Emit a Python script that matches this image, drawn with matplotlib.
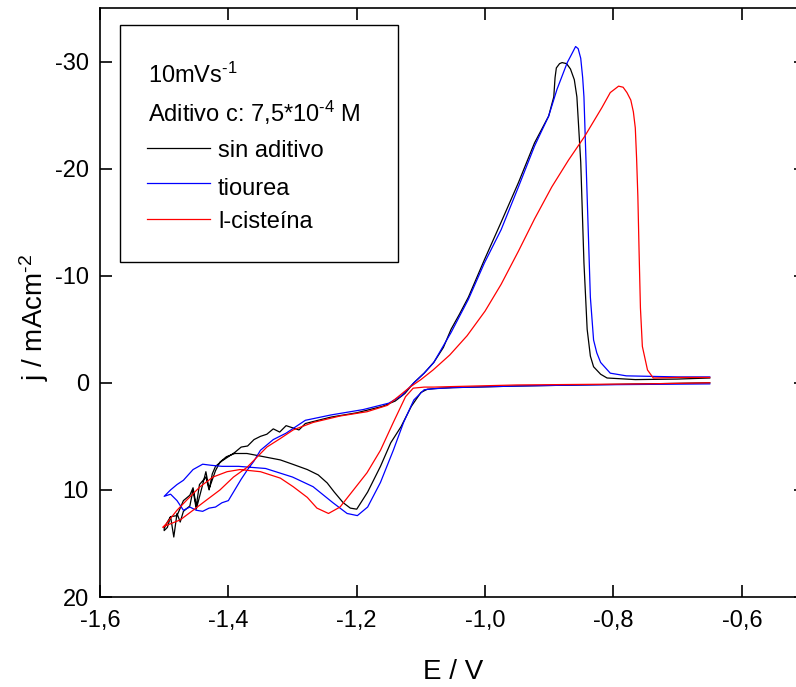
import numpy as np
import matplotlib.pyplot as plt
from matplotlib.patches import Rectangle

plt.rcParams['font.family'] = ['Liberation Sans', 'DejaVu Sans']
plt.rcParams['mathtext.fontset'] = 'custom'
plt.rcParams['mathtext.rm'] = 'Liberation Sans'
plt.rcParams['mathtext.it'] = 'Liberation Sans:italic'
plt.rcParams['axes.unicode_minus'] = False

# sin aditivo (black): forward scan -0.65 -> -1.5, then back
E_black_fwd = [-0.65, -0.75, -0.85, -0.95, -1.05, -1.07, -1.09, -1.10, -1.115, -1.131,
               -1.147, -1.163, -1.183, -1.20, -1.21, -1.221, -1.235, -1.246, -1.26, -1.277,
               -1.30, -1.319, -1.345, -1.371, -1.39, -1.403, -1.413, -1.42, -1.43, -1.435,
               -1.44, -1.45, -1.455, -1.46, -1.47, -1.475, -1.48, -1.485, -1.49, -1.495, -1.50]
j_black_fwd = [0.0, 0.1, 0.2, 0.3, 0.45, 0.5, 0.6, 0.9, 2.2, 4.1,
               5.6, 7.8, 10.2, 11.8, 11.7, 11.2, 10.2, 9.35, 8.6, 8.1,
               7.6, 7.2, 6.9, 6.6, 6.6, 6.9, 7.4, 8.2, 9.9, 8.3,
               9.5, 11.8, 10.0, 11.5, 12.0, 13.0, 12.2, 14.4, 12.5, 13.5, 13.8]
E_black_rev = [-1.50, -1.495, -1.49, -1.48, -1.47, -1.46, -1.455, -1.45, -1.445, -1.435,
               -1.43, -1.425, -1.42, -1.41, -1.40, -1.39, -1.38, -1.37, -1.36, -1.35,
               -1.34, -1.33, -1.32, -1.31, -1.30, -1.29, -1.28, -1.26, -1.24, -1.22,
               -1.20, -1.18, -1.16, -1.14, -1.125, -1.111, -1.095, -1.08, -1.065, -1.053,
               -1.04, -1.026, -1.001, -0.975, -0.948, -0.923, -0.901, -0.893, -0.891, -0.889,
               -0.884, -0.88, -0.873, -0.867, -0.861, -0.857, -0.851, -0.846, -0.843, -0.841,
               -0.836, -0.831, -0.82, -0.81, -0.766, -0.70, -0.65]
j_black_rev = [13.6, 13.0, 12.5, 12.4, 11.0, 10.5, 9.8, 11.5, 9.5, 8.8,
               10.0, 8.5, 7.8, 7.3, 6.9, 6.5, 6.0, 5.9, 5.3, 5.0,
               4.8, 4.3, 4.6, 4.0, 4.2, 4.4, 3.8, 3.5, 3.2, 3.0,
               2.8, 2.5, 2.2, 1.7, 1.0, 0.0, -0.9, -1.9, -3.3, -5.0,
               -6.4, -8.0, -11.5, -15.0, -18.7, -22.4, -24.9, -26.7, -28.5, -29.4,
               -29.8, -29.9, -29.8, -29.3, -28.3, -26.7, -20.6, -11.2, -7.5, -5.0,
               -2.5, -1.5, -0.8, -0.45, -0.3, -0.35, -0.45]

# tiourea (blue)
E_blue_fwd = [-0.65, -0.75, -0.85, -0.95, -1.05, -1.08, -1.095, -1.111, -1.127, -1.143,
              -1.163, -1.183, -1.199, -1.215, -1.237, -1.268, -1.30, -1.342, -1.384, -1.41,
              -1.427, -1.44, -1.455, -1.47, -1.48, -1.49, -1.50]
j_blue_fwd = [0.1, 0.15, 0.2, 0.3, 0.45, 0.55, 0.65, 1.6, 3.7, 6.3,
              9.3, 11.6, 12.4, 12.2, 11.2, 9.7, 8.8, 8.0, 7.8, 7.8,
              7.7, 7.6, 8.1, 9.1, 9.5, 10.0, 10.6]
E_blue_rev = [-1.50, -1.49, -1.48, -1.47, -1.46, -1.45, -1.44, -1.43, -1.42, -1.41,
              -1.40, -1.39, -1.38, -1.37, -1.36, -1.35, -1.33, -1.31, -1.28, -1.24,
              -1.19, -1.15, -1.13, -1.111, -1.095, -1.080, -1.053, -1.026, -1.001, -0.975,
              -0.948, -0.923, -0.901, -0.888, -0.872, -0.865, -0.859, -0.855, -0.851, -0.848,
              -0.846, -0.841, -0.836, -0.831, -0.826, -0.82, -0.805, -0.78, -0.70, -0.65]
j_blue_rev = [10.6, 10.4, 11.0, 11.9, 11.6, 11.9, 12.0, 11.7, 11.6, 11.2,
              11.0, 10.0, 9.0, 8.1, 7.3, 6.3, 5.3, 4.7, 3.5, 3.0,
              2.5, 1.9, 1.2, 0.0, -0.9, -1.9, -4.7, -7.8, -11.2, -14.3,
              -18.3, -22.1, -24.9, -27.4, -29.9, -30.7, -31.4, -31.2, -30.3, -28.5,
              -26.7, -17.4, -8.0, -4.0, -2.8, -1.9, -0.9, -0.65, -0.55, -0.55]

# l-cisteina (red)
E_red_fwd = [-0.65, -0.75, -0.85, -0.95, -1.05, -1.08, -1.095, -1.112, -1.124, -1.143,
             -1.163, -1.184, -1.205, -1.226, -1.244, -1.262, -1.277, -1.299, -1.319, -1.35,
             -1.382, -1.402, -1.424, -1.444, -1.464, -1.48, -1.496, -1.502]
j_red_fwd = [0.0, 0.1, 0.15, 0.2, 0.35, 0.4, 0.4, 0.5, 1.3, 3.7,
             6.3, 8.4, 10.0, 11.6, 12.2, 11.7, 10.7, 9.7, 8.9, 8.3,
             8.1, 8.3, 8.8, 9.7, 10.9, 11.9, 13.1, 13.5]
E_red_rev = [-1.50, -1.475, -1.455, -1.433, -1.413, -1.392, -1.371, -1.34, -1.319, -1.299,
             -1.268, -1.226, -1.184, -1.152, -1.117, -1.10, -1.081, -1.055, -1.028, -1.00,
             -0.975, -0.948, -0.923, -0.896, -0.870, -0.845, -0.818, -0.805, -0.792, -0.785,
             -0.779, -0.773, -0.769, -0.766, -0.764, -0.762, -0.760, -0.758, -0.755, -0.747,
             -0.738, -0.70, -0.65]
j_red_rev = [13.4, 12.8, 11.9, 10.9, 10.0, 8.8, 7.9, 6.0, 5.2, 4.4,
             3.7, 3.1, 2.7, 2.1, 0.4, -0.3, -1.2, -2.6, -4.4, -6.7,
             -9.2, -12.3, -15.3, -18.3, -20.8, -23.0, -25.7, -27.1, -27.7, -27.6,
             -27.1, -26.4, -25.3, -23.8, -21.0, -17.4, -12.0, -7.0, -3.4, -1.2,
             -0.45, -0.5, -0.5]

series = [
    ('sin aditivo', 'black', E_black_fwd + E_black_rev, j_black_fwd + j_black_rev),
    ('tiourea', 'blue', E_blue_fwd + E_blue_rev, j_blue_fwd + j_blue_rev),
    ('l-cisteína', 'red', E_red_fwd + E_red_rev, j_red_fwd + j_red_rev),
]

xticks = [-1.6, -1.4, -1.2, -1.0, -0.8, -0.6]
xticklabels = ['-1,6', '-1,4', '-1,2', '-1,0', '-0,8', '-0,6']
yticks = [-30, -20, -10, 0, 10, 20]

fig = plt.figure(figsize=(7.96, 6.87), dpi=100)
ax = fig.add_axes([0.1256, 0.131, 0.887, 0.8574])

for name, col, E, j in series:
    ax.plot(E, j, color=col, lw=0.9)

ax.set_xlim(-1.6, -0.5)
ax.set_ylim(20, -35)
ax.set_xticks(xticks)
ax.set_xticklabels(xticklabels)
ax.set_yticks(yticks)
ax.tick_params(direction='in', length=8.5, width=1.2, labelsize=17,
               top=True, right=True)
ax.tick_params(axis='x', pad=9)
ax.tick_params(axis='y', pad=8)
for s in ax.spines.values():
    s.set_linewidth(1.2)

ax.set_xlabel('E / V', fontsize=20)
ax.xaxis.label.set_va('center')
ax.xaxis.set_label_coords(0.5, -0.127)
ax.set_ylabel(r'j / mAcm$^{\text{-2}}$', fontsize=20)
ax.yaxis.label.set_va('center')
ax.yaxis.set_label_coords(-0.094, 0.474)

# legend box drawn by hand
tr = ax.transAxes
ax.add_patch(Rectangle((0.0283, 0.569), 0.394, 0.402, transform=tr,
                       fill=False, lw=1.0, ec='black'))
ax.text(0.068, 0.873, r'10mVs$^{\text{-1}}$', transform=tr, fontsize=17, va='baseline')
ax.text(0.068, 0.806, r'Aditivo c: 7,5*10$^{\text{-4}}$ M', transform=tr, fontsize=17,
        va='baseline')
leg_line_y = [0.762, 0.703, 0.642]
leg_text_y = [0.747, 0.6825, 0.6265]
for (name, col, E, j), ly, ty in zip(series, leg_line_y, leg_text_y):
    ax.plot([0.0666, 0.156], [ly, ly], color=col, lw=0.9, transform=tr)
    ax.text(0.167, ty, name, transform=tr, fontsize=17, va='baseline')

fig.savefig('out.png', dpi=100)
